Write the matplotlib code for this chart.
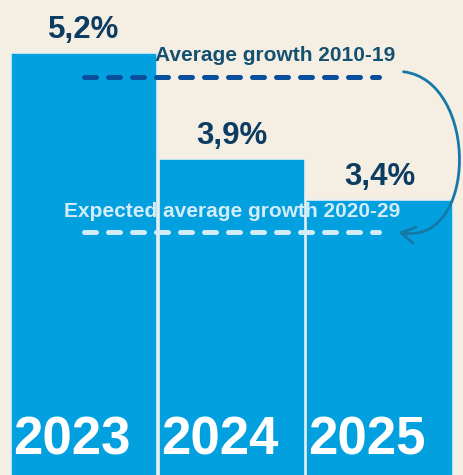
import matplotlib
matplotlib.use("Agg")
import matplotlib.pyplot as plt
from matplotlib.patches import FancyArrowPatch
from matplotlib.path import Path

plt.rcParams['font.family'] = ['Liberation Sans', 'DejaVu Sans']

# Data
years = ["2023", "2024", "2025"]
growth = [5.2, 3.9, 3.4]
value_labels = ["5,2%", "3,9%", "3,4%"]
avg_2010_19 = 4.9
avg_2020_29 = 3.0
avg_label = "Average growth 2010-19"
exp_label = "Expected average growth 2020-29"

# Colours
bg = "#F5EEE3"
bar_col = "#03A0E0"
edge_col = "#E6EEF0"
navy = "#0D3C62"
avg_text_col = "#14506F"
avg_line_col = "#0A4F9E"
exp_col = "#D3ECF9"
arrow_col = "#1579A8"

fig = plt.figure(figsize=(4.63, 4.75), dpi=100, facecolor=bg)
ax = fig.add_axes([0, 0, 1, 1], facecolor=bg)

x = list(range(len(years)))
bars = ax.bar(x, growth, width=0.99, color=bar_col, edgecolor=edge_col,
              linewidth=1.2, zorder=2)

ax.set_xlim(-0.57, 2.566)
ax.set_ylim(0.025, 5.85)
ax.axis("off")

# value labels above bars
for xi, v, lab in zip(x, growth, value_labels):
    ax.annotate(lab, (xi, v), xytext=(0, 11), textcoords="offset points",
                ha="center", va="baseline", fontsize=22.5, fontweight="bold",
                color=navy, zorder=4)

# year labels inside bars
for xi, yr in zip(x, years):
    ax.annotate(yr, (xi - 0.495, 0), xytext=(1.5, 16), textcoords="offset points",
                ha="left", va="baseline", fontsize=38, fontweight="bold",
                color="white", zorder=4, annotation_clip=False)

# average growth reference lines
dash_kw = dict(linewidth=3.6, dash_capstyle="round", zorder=3)
ax.plot([0, 2], [avg_2010_19, avg_2010_19], color=avg_line_col,
        dashes=(2.4, 2.4), **dash_kw)
ax.plot([0, 2], [avg_2020_29, avg_2020_29], color=exp_col,
        dashes=(2.4, 2.4), **dash_kw)

ax.annotate(avg_label, (1.295, avg_2010_19), xytext=(0, 12),
            textcoords="offset points", ha="center", va="baseline",
            fontsize=15, fontweight="bold", color=avg_text_col, zorder=4)
ax.annotate(exp_label, (1.0, avg_2020_29), xytext=(0, 11),
            textcoords="offset points", ha="center", va="baseline",
            fontsize=15, fontweight="bold", color=exp_col, zorder=4)

# curved arrow from the historical average down to the expected one
start = (2.163, avg_2010_19 + 0.07)
end = (2.129, avg_2020_29 + 0.0)
c1 = (2.671, avg_2010_19 - 0.04)
c2 = (2.671, avg_2020_29 - 0.17)
arc = Path([start, c1, c2, end], [Path.MOVETO, Path.CURVE4, Path.CURVE4, Path.CURVE4])
arrow = FancyArrowPatch(path=arc, arrowstyle="->,head_length=10,head_width=6",
                        color=arrow_col, linewidth=2.0, zorder=5,
                        transform=ax.transData, clip_on=False)
ax.add_patch(arrow)

fig.savefig("out.png", dpi=100, facecolor=bg)
